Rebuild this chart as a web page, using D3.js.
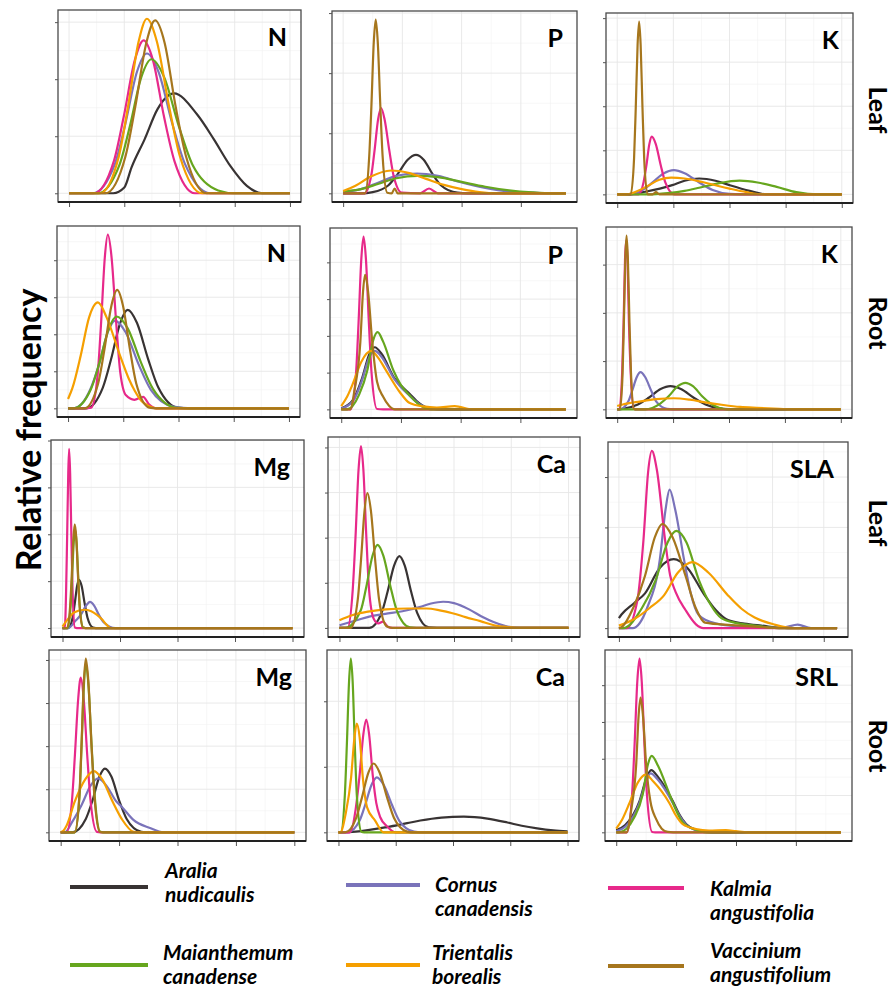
<!DOCTYPE html>
<meta charset="utf-8">
<script src="https://d3js.org/d3.v7.min.js"></script>
<style>
  body { margin: 0; background: #fff; }
  svg { font-family: Lato, "Open Sans", sans-serif; }
  .grid-major { stroke: #e6e6e6; stroke-width: 0.9; }
  .grid-minor { stroke: #f1f1f1; stroke-width: 0.6; }
  .axis path { display: none; }
  .axis line { stroke: #555; stroke-width: 1; }
  .density { fill: none; stroke-width: 2.2; stroke-linejoin: round; }
  .panel-label { font-size: 25px; font-weight: bold; text-anchor: end; }
  .side-label { font-size: 25px; font-weight: bold; text-anchor: middle; }
  .legend text { font-size: 21px; font-weight: bold; font-style: italic; }
</style>
<body>
<script>

// species, in drawing order
var species = ["Aralia nudicaulis", "Cornus canadensis", "Kalmia angustifolia",
               "Maianthemum canadense", "Trientalis borealis", "Vaccinium angustifolium"];
var colors = ["#383333", "#7a73ba", "#e7298a", "#66a61e", "#f59f00", "#a6761d"];

var traits = ["N", "P", "K", "N", "P", "K", "Mg", "Ca", "SLA", "Mg", "Ca", "SRL"];
var tissues = ["Leaf", "Root", "Leaf", "Root"];
var xMaxes = [4, 3.76, 4, 4, 3.76, 4, 4, 4, 4.26, 4, 4, 3.75];

// density curves, [x, density] per species
var nLeaf = [
  [[0,0],[0.8,0],[1.0,0.1],[1.13,0.45],[1.37,0.95],[1.6,1.47],[1.9,1.75],[2.32,1.38],[2.62,0.95],[2.92,0.48],[3.22,0.13],[3.5,0],[4,0]],
  [[0,0],[0.43,0],[0.83,0.51],[1.02,1.22],[1.23,2.13],[1.41,2.45],[1.62,2.13],[1.87,1.22],[2.1,0.51],[2.56,0],[4,0]],
  [[0,0],[0.45,0],[0.81,0.56],[0.99,1.34],[1.19,2.33],[1.35,2.68],[1.52,2.33],[1.72,1.34],[1.91,0.56],[2.28,0],[4,0]],
  [[0,0],[0.52,0],[0.91,0.49],[1.1,1.17],[1.31,2.04],[1.49,2.35],[1.72,2.04],[1.99,1.17],[2.24,0.49],[2.7,0.05],[3.0,0],[4,0]],
  [[0,0],[0.56,0],[0.9,0.64],[1.07,1.53],[1.26,2.66],[1.41,3.06],[1.59,2.66],[1.81,1.53],[2.01,0.64],[2.41,0],[4,0]],
  [[0,0],[0.66,0],[1.02,0.64],[1.2,1.52],[1.4,2.64],[1.56,3.03],[1.73,2.64],[1.93,1.52],[2.12,0.64],[2.49,0],[4,0]]
];
var pLeaf = [
  [[0,0],[0.3,0],[0.5,0.02],[0.765,0.135],[0.92,0.32],[1.09,0.56],[1.23,0.64],[1.36,0.56],[1.51,0.32],[1.65,0.135],[1.93,0.01],[2.1,0],[3.76,0]],
  [[0,0.02],[0.3,0.07],[0.6,0.18],[0.9,0.29],[1.25,0.33],[1.6,0.29],[2.0,0.18],[2.4,0.09],[2.8,0.03],[3.2,0.01],[3.5,0],[3.76,0]],
  [[0,0],[0.36,0],[0.475,0.3],[0.53,0.71],[0.59,1.23],[0.64,1.42],[0.7,1.23],[0.78,0.71],[0.85,0.3],[0.99,0.01],[1.3,0],[1.45,0.08],[1.6,0],[3.76,0]],
  [[0,0.03],[0.3,0.07],[0.6,0.16],[0.9,0.25],[1.25,0.29],[1.6,0.27],[2.0,0.19],[2.4,0.11],[2.8,0.05],[3.2,0.015],[3.55,0],[3.76,0]],
  [[0,0.04],[0.2,0.12],[0.45,0.27],[0.81,0.38],[1.1,0.34],[1.4,0.24],[1.7,0.14],[2.0,0.07],[2.3,0.02],[2.6,0],[3.76,0]],
  [[0,0],[0.37,0],[0.44,0.61],[0.477,1.45],[0.517,2.51],[0.55,2.89],[0.585,2.51],[0.628,1.45],[0.667,0.61],[0.745,0.01],[0.82,0],[0.87,0.08],[0.92,0],[3.76,0]]
];
var kLeaf = [
  [[0,0],[0.2,0],[0.5,0.06],[0.98,0.21],[1.2,0.31],[1.46,0.36],[1.75,0.31],[2.0,0.21],[2.36,0.08],[2.65,0],[4,0]],
  [[0,0],[0.2,0],[0.45,0.1],[0.63,0.27],[0.82,0.47],[1.01,0.55],[1.2,0.48],[1.46,0.27],[1.7,0.1],[2.0,0.01],[2.2,0],[4,0]],
  [[0,0],[0.38,0],[0.47,0.28],[0.52,0.66],[0.572,1.14],[0.615,1.31],[0.687,1.14],[0.775,0.66],[0.855,0.28],[1.02,0],[4,0]],
  [[0,0],[0.55,0],[0.9,0.03],[1.2,0.08],[1.46,0.15],[1.8,0.25],[2.18,0.31],[2.5,0.27],[2.84,0.17],[3.19,0.05],[3.6,0],[4,0]],
  [[0,0],[0.15,0],[0.35,0.07],[0.54,0.19],[0.75,0.33],[0.96,0.38],[1.2,0.36],[1.52,0.28],[1.8,0.19],[2.0,0.13],[2.3,0.05],[2.6,0],[4,0]],
  [[0,0],[0.24,0],[0.3,0.82],[0.33,1.96],[0.363,3.4],[0.39,3.92],[0.417,3.4],[0.45,1.96],[0.48,0.82],[0.54,0],[0.63,0],[0.69,0.05],[0.75,0],[4,0]]
];
var nRoot = [
  [[0,0],[0.33,0],[0.63,0.56],[0.78,1.33],[0.945,2.31],[1.08,2.66],[1.247,2.31],[1.45,1.33],[1.635,0.56],[2.0,0.01],[2.2,0],[4,0]],
  [[0,0],[0.1,0],[0.4,0.5],[0.56,1.18],[0.72,2.06],[0.85,2.37],[1.04,2.06],[1.28,1.18],[1.5,0.5],[1.9,0.05],[2.25,0],[4,0]],
  [[0,0],[0.3,0],[0.42,0.02],[0.54,0.98],[0.6,2.35],[0.666,4.08],[0.72,4.69],[0.788,4.08],[0.87,2.35],[0.945,0.98],[1.05,0.35],[1.2,0.23],[1.36,0.31],[1.47,0.1],[1.6,0],[4,0]],
  [[0,0],[0.1,0],[0.415,0.52],[0.57,1.24],[0.74,2.16],[0.88,2.48],[1.08,2.16],[1.32,1.24],[1.54,0.52],[1.98,0.01],[2.2,0],[4,0]],
  [[0,0.25],[0.08,0.55],[0.23,1.43],[0.38,2.45],[0.54,2.86],[0.7,2.45],[0.94,1.43],[1.1,0.8],[1.21,0.47],[1.33,0.2],[1.45,0.07],[1.6,0],[4,0]],
  [[0,0],[0.3,0],[0.545,0.67],[0.66,1.6],[0.786,2.78],[0.89,3.2],[0.994,2.78],[1.12,1.6],[1.235,0.67],[1.47,0.02],[1.6,0],[4,0]]
];
var pRoot = [
  [[0,0.03],[0.195,0.25],[0.35,0.85],[0.47,1.5],[0.56,1.69],[0.68,1.5],[0.89,0.85],[1.0,0.65],[1.14,0.43],[1.31,0.16],[1.5,0.02],[1.7,0],[3.76,0]],
  [[0,0.02],[0.195,0.22],[0.35,0.8],[0.47,1.42],[0.56,1.59],[0.68,1.42],[0.89,0.82],[1.0,0.6],[1.14,0.38],[1.31,0.14],[1.5,0.02],[1.7,0],[3.76,0]],
  [[0,0],[0.16,0],[0.248,0.99],[0.29,2.35],[0.336,4.08],[0.374,4.7],[0.414,4.08],[0.463,2.35],[0.508,0.99],[0.6,0.01],[0.7,0],[3.76,0]],
  [[0,0],[0.1,0],[0.3,0.4],[0.435,1.05],[0.53,1.85],[0.61,2.1],[0.7,1.85],[0.876,1.05],[1.0,0.66],[1.14,0.39],[1.31,0.12],[1.5,0],[3.76,0]],
  [[0,0.09],[0.1,0.35],[0.195,0.7],[0.335,1.29],[0.5,1.59],[0.62,1.4],[0.75,1.06],[0.976,0.48],[1.14,0.18],[1.37,0.08],[1.6,0.05],[1.9,0.09],[2.2,0],[3.76,0]],
  [[0,0],[0.15,0],[0.22,0.5],[0.32,1.83],[0.365,3.2],[0.4,3.66],[0.45,3.2],[0.52,1.83],[0.6,0.75],[0.7,0.35],[0.8,0.1],[0.9,0],[3.76,0]]
];
var kRoot = [
  [[0,0],[0.1,0.01],[0.37,0.1],[0.565,0.24],[0.777,0.42],[0.95,0.48],[1.14,0.42],[1.37,0.24],[1.58,0.1],[1.9,0.01],[2.1,0],[4,0]],
  [[0,0],[0.05,0],[0.197,0.16],[0.27,0.39],[0.351,0.67],[0.417,0.77],[0.5,0.67],[0.607,0.39],[0.7,0.16],[0.89,0.01],[1.0,0],[4,0]],
  [[0,0],[0.04,0],[0.09,0.8],[0.115,1.8],[0.14,3.1],[0.16,3.5],[0.185,3.1],[0.21,1.8],[0.24,0.8],[0.3,0.01],[0.35,0],[4,0]],
  [[0,0],[0.5,0],[0.77,0.12],[0.92,0.27],[1.085,0.48],[1.22,0.55],[1.355,0.48],[1.52,0.27],[1.67,0.12],[1.97,0],[4,0]],
  [[0,0.07],[0.1,0.1],[0.4,0.16],[0.7,0.21],[1.01,0.23],[1.3,0.2],[1.6,0.14],[1.9,0.09],[2.2,0.05],[2.5,0.03],[2.9,0.01],[3.2,0],[4,0]],
  [[0,0],[0.05,0],[0.097,0.76],[0.12,1.8],[0.146,3.13],[0.167,3.6],[0.191,3.13],[0.22,1.8],[0.247,0.76],[0.3,0.01],[0.35,0],[4,0]]
];
var mgLeaf = [
  [[0,0],[0.1,0],[0.176,0.22],[0.213,0.52],[0.254,0.9],[0.288,1.03],[0.332,0.9],[0.386,0.52],[0.435,0.22],[0.53,0.01],[0.58,0],[4,0]],
  [[0,0],[0.1,0],[0.23,0.16],[0.317,0.28],[0.41,0.48],[0.478,0.56],[0.55,0.48],[0.633,0.28],[0.72,0.12],[0.92,0],[4,0]],
  [[0,0],[0.04,0],[0.063,0.8],[0.08,1.91],[0.1,3.3],[0.115,3.82],[0.133,3.3],[0.155,1.91],[0.175,0.8],[0.215,0.01],[0.25,0],[4,0]],
  [[0,0],[0.09,0],[0.14,0.45],[0.165,1.05],[0.195,1.82],[0.22,2.1],[0.245,1.82],[0.275,1.05],[0.3,0.45],[0.36,0.01],[0.4,0],[4,0]],
  [[0,0.03],[0.1,0.2],[0.2,0.33],[0.374,0.39],[0.5,0.36],[0.6,0.28],[0.69,0.18],[0.76,0.08],[0.84,0],[4,0]],
  [[0,0],[0.08,0],[0.133,0.47],[0.16,1.1],[0.19,1.92],[0.213,2.21],[0.24,1.92],[0.27,1.1],[0.298,0.47],[0.355,0.01],[0.4,0],[4,0]]
];
var caLeaf = [
  [[0,0],[0.52,0],[0.737,0.34],[0.84,0.8],[0.954,1.38],[1.047,1.59],[1.14,1.38],[1.252,0.8],[1.355,0.34],[1.56,0.01],[1.7,0],[4,0]],
  [[0,0.06],[0.3,0.17],[0.52,0.25],[0.8,0.31],[1.1,0.37],[1.4,0.46],[1.6,0.54],[1.81,0.58],[2.0,0.55],[2.28,0.4],[2.5,0.24],[2.69,0.13],[2.9,0.04],[3.16,0],[4,0]],
  [[0,0],[0.14,0],[0.232,0.85],[0.28,2.0],[0.333,3.5],[0.376,4.03],[0.418,3.5],[0.47,2.0],[0.517,0.85],[0.6,0.2],[0.68,0.1],[0.76,0.14],[0.85,0.02],[0.92,0],[4,0]],
  [[0,0],[0.1,0],[0.372,0.39],[0.47,0.92],[0.577,1.6],[0.665,1.84],[0.766,1.6],[0.89,0.92],[1.0,0.39],[1.23,0.01],[1.34,0],[4,0]],
  [[0,0.17],[0.22,0.28],[0.5,0.36],[0.81,0.41],[1.2,0.43],[1.52,0.43],[1.75,0.39],[1.99,0.32],[2.2,0.24],[2.46,0.15],[2.7,0.06],[2.93,0.02],[3.2,0],[4,0]],
  [[0,0],[0.2,0],[0.32,0.63],[0.376,1.5],[0.438,2.6],[0.488,2.99],[0.549,2.6],[0.624,1.5],[0.692,0.63],[0.83,0.03],[0.93,0],[4,0]]
];
var slaLeaf = [
  [[0,0.2],[0.05,0.27],[0.3,0.5],[0.51,0.69],[0.8,1.2],[1.07,1.37],[1.35,1.18],[1.65,0.69],[1.9,0.35],[2.13,0.16],[2.45,0.09],[2.78,0.05],[3.3,0],[4.26,0]],
  [[0,0],[0.27,0],[0.55,0.4],[0.8,1.37],[0.91,2.35],[0.99,2.75],[1.1,2.35],[1.27,1.37],[1.4,0.7],[1.56,0.26],[1.8,0.12],[2.0,0.07],[2.5,0.03],[3.2,0.01],[3.49,0.07],[3.75,0],[4.26,0]],
  [[0,0],[0.15,0],[0.36,0.55],[0.48,1.76],[0.57,3.1],[0.643,3.52],[0.74,3.15],[0.9,1.76],[1.0,1.05],[1.106,0.72],[1.3,0.36],[1.5,0.08],[1.65,0],[4.26,0]],
  [[0,0],[0.08,0],[0.45,0.4],[0.72,0.96],[0.95,1.7],[1.12,1.93],[1.32,1.7],[1.56,0.96],[1.8,0.45],[2.0,0.2],[2.3,0.1],[2.65,0.05],[3.2,0],[4.26,0]],
  [[0,0.05],[0.3,0.18],[0.6,0.4],[0.88,0.65],[1.15,1.1],[1.43,1.31],[1.75,1.1],[2.13,0.65],[2.4,0.38],[2.65,0.21],[3.04,0.07],[3.42,0],[4.26,0]],
  [[0,0],[0.05,0.02],[0.3,0.45],[0.51,1.04],[0.7,1.8],[0.85,2.07],[1.05,1.8],[1.3,1.04],[1.5,0.4],[1.68,0.11],[2.2,0.06],[2.65,0.03],[3.2,0],[4.26,0]]
];
var mgRoot = [
  [[0,0],[0.2,0],[0.43,0.31],[0.545,0.74],[0.662,1.29],[0.757,1.48],[0.87,1.29],[1.0,0.74],[1.13,0.31],[1.38,0.01],[1.45,0],[4,0]],
  [[0,0],[0.07,0],[0.2,0.25],[0.356,0.63],[0.52,1.1],[0.643,1.25],[0.8,1.05],[0.95,0.72],[1.04,0.6],[1.245,0.29],[1.53,0.1],[1.76,0],[4,0]],
  [[0,0],[0.1,0],[0.194,0.75],[0.244,1.8],[0.3,3.1],[0.344,3.59],[0.394,3.1],[0.454,1.8],[0.51,0.75],[0.62,0.01],[0.68,0],[4,0]],
  [[0,0],[0.24,0],[0.32,0.8],[0.356,1.95],[0.397,3.4],[0.43,3.93],[0.476,3.4],[0.532,1.95],[0.585,0.8],[0.68,0.01],[0.73,0],[4,0]],
  [[0,0],[0.05,0.04],[0.1,0.15],[0.24,0.71],[0.42,1.23],[0.568,1.42],[0.712,1.23],[0.89,0.71],[1.05,0.3],[1.25,0.01],[1.35,0],[4,0]],
  [[0,0],[0.24,0],[0.32,0.85],[0.356,2.0],[0.397,3.5],[0.43,4.03],[0.474,3.5],[0.528,2.0],[0.577,0.85],[0.67,0.01],[0.72,0],[4,0]]
];
var caRoot = [
  [[0,0],[0.3,0.01],[0.85,0.08],[1.2,0.14],[1.43,0.18],[1.8,0.225],[2.19,0.24],[2.6,0.21],[2.95,0.15],[3.2,0.1],[3.47,0.06],[3.75,0.03],[4,0.015]],
  [[0,0],[0.16,0],[0.37,0.18],[0.467,0.42],[0.58,0.73],[0.67,0.84],[0.787,0.73],[0.934,0.42],[1.06,0.18],[1.32,0.01],[1.45,0],[4,0]],
  [[0,0],[0.2,0],[0.3,0.35],[0.368,0.86],[0.435,1.5],[0.485,1.72],[0.535,1.5],[0.6,0.86],[0.66,0.45],[0.73,0.23],[0.85,0.09],[1.0,0],[4,0]],
  [[0,0],[0.04,0],[0.111,0.56],[0.146,1.32],[0.185,2.3],[0.216,2.65],[0.248,2.3],[0.286,1.32],[0.321,0.56],[0.4,0.01],[0.45,0],[4,0]],
  [[0,0],[0.03,0],[0.13,0.3],[0.22,0.83],[0.28,1.45],[0.32,1.66],[0.37,1.45],[0.426,0.83],[0.5,0.38],[0.64,0.18],[0.79,0],[4,0]],
  [[0,0],[0.12,0],[0.31,0.22],[0.41,0.53],[0.523,0.91],[0.613,1.05],[0.72,0.91],[0.85,0.53],[0.97,0.22],[1.2,0.01],[1.28,0],[4,0]]
];
var srlRoot = [
  [[0,0.06],[0.15,0.2],[0.389,0.85],[0.5,1.45],[0.583,1.69],[0.7,1.5],[0.944,0.85],[1.05,0.5],[1.17,0.22],[1.33,0.07],[1.5,0.01],[1.6,0],[3.75,0]],
  [[0,0.03],[0.15,0.15],[0.389,0.8],[0.5,1.38],[0.572,1.6],[0.7,1.42],[0.944,0.8],[1.05,0.47],[1.17,0.2],[1.33,0.06],[1.5,0.01],[1.6,0],[3.75,0]],
  [[0,0],[0.18,0],[0.264,1.0],[0.306,2.36],[0.352,4.1],[0.389,4.72],[0.426,4.1],[0.472,2.36],[0.514,1.0],[0.6,0.01],[0.65,0],[3.75,0]],
  [[0,0],[0.05,0],[0.3,0.4],[0.444,1.04],[0.53,1.85],[0.594,2.08],[0.7,1.8],[0.889,1.04],[1.0,0.6],[1.11,0.27],[1.33,0.07],[1.5,0],[3.75,0]],
  [[0,0.1],[0.1,0.35],[0.22,0.79],[0.36,1.35],[0.489,1.57],[0.62,1.38],[0.889,0.79],[1.0,0.45],[1.11,0.22],[1.33,0.09],[1.55,0.05],[1.83,0.06],[2.0,0.03],[2.2,0],[3.75,0]],
  [[0,0],[0.17,0],[0.25,0.6],[0.333,1.83],[0.375,3.2],[0.406,3.66],[0.445,3.2],[0.5,1.83],[0.57,0.85],[0.667,0.36],[0.76,0.1],[0.86,0.01],[0.95,0],[3.75,0]]
];

var panels = [nLeaf, pLeaf, kLeaf, nRoot, pRoot, kRoot, mgLeaf, caLeaf, slaLeaf, mgRoot, caRoot, srlRoot];

// layout: panel boxes [left, top, right, bottom] (the figure is a pasted composite)
var boxes = [
  [58, 10, 301, 202], [332, 11, 577, 202], [606, 13, 853, 203],
  [57, 226, 300, 417], [330, 228, 577, 418], [606, 227, 852, 418],
  [51, 440, 304, 637], [328, 437, 580, 637], [608, 442, 848, 637],
  [49, 650, 306, 841], [327, 650, 579, 841], [605, 650, 852, 841]
];
var sideY = [110, 323, 523, 746];
// legend: line x1, x2, y, text x, first baseline
var legendPos = [
  [70, 148, 887, 165, 878], [346, 420, 885, 435, 892], [608, 684, 888, 710, 896],
  [70, 148, 965, 163, 960], [346, 420, 965, 432, 960], [608, 684, 966, 710, 958]
];

var width = 895, height = 988;

var svg = d3.select("body").append("svg")
    .attr("width", width)
    .attr("height", height);

panels.forEach(function (curves, i) {
  var b = boxes[i];
  var xMax = xMaxes[i];
  var yMax = d3.max(curves, function (c) { return d3.max(c, function (d) { return d[1]; }); });

  var x = d3.scaleLinear()
      .domain([-0.05 * xMax, 1.05 * xMax])
      .range([b[0], b[2]]);
  var y = d3.scaleLinear()
      .domain([-0.05 * yMax, 1.05 * yMax])
      .range([b[3], b[1]]);

  var xTicks = d3.range(0, Math.floor(x.domain()[1]) + 1);
  var yTicks = d3.range(0, Math.floor(y.domain()[1]) + 1);
  var xMinor = xTicks.map(function (t) { return t + 0.5; }).filter(function (t) { return t < x.domain()[1]; });
  var yMinor = yTicks.map(function (t) { return t + 0.5; }).filter(function (t) { return t < y.domain()[1]; });

  var g = svg.append("g");

  g.append("rect")
      .attr("x", b[0]).attr("y", b[1])
      .attr("width", b[2] - b[0]).attr("height", b[3] - b[1])
      .attr("fill", "#fff");

  g.selectAll(".vminor").data(xMinor).enter().append("line")
      .attr("class", "grid-minor")
      .attr("x1", x).attr("x2", x).attr("y1", b[1]).attr("y2", b[3]);
  g.selectAll(".hminor").data(yMinor).enter().append("line")
      .attr("class", "grid-minor")
      .attr("y1", y).attr("y2", y).attr("x1", b[0]).attr("x2", b[2]);
  g.selectAll(".vmajor").data(xTicks).enter().append("line")
      .attr("class", "grid-major")
      .attr("x1", x).attr("x2", x).attr("y1", b[1]).attr("y2", b[3]);
  g.selectAll(".hmajor").data(yTicks).enter().append("line")
      .attr("class", "grid-major")
      .attr("y1", y).attr("y2", y).attr("x1", b[0]).attr("x2", b[2]);

  var line = d3.line()
      .x(function (d) { return x(d[0]); })
      .y(function (d) { return y(d[1]); })
      .curve(d3.curveMonotoneX);

  g.selectAll(".density").data(curves).enter().append("path")
      .attr("class", "density")
      .attr("stroke", function (d, k) { return colors[k]; })
      .attr("d", line);

  g.append("rect")
      .attr("x", b[0]).attr("y", b[1])
      .attr("width", b[2] - b[0]).attr("height", b[3] - b[1])
      .attr("fill", "none")
      .attr("stroke", "#4a4a4a")
      .attr("stroke-width", 1.3);

  g.append("line")
      .attr("x1", b[0]).attr("x2", b[2])
      .attr("y1", b[3]).attr("y2", b[3])
      .attr("stroke", "#222")
      .attr("stroke-width", 2);

  g.append("g")
      .attr("class", "axis")
      .attr("transform", "translate(0," + (b[3] + 1) + ")")
      .call(d3.axisBottom(x).tickValues(xTicks).tickFormat("").tickSizeInner(4).tickSizeOuter(0));

  g.append("g")
      .attr("class", "axis")
      .attr("transform", "translate(" + b[0] + ",0)")
      .call(d3.axisLeft(y).tickValues(yTicks).tickFormat("").tickSizeInner(3).tickSizeOuter(0));

  g.append("text")
      .attr("class", "panel-label")
      .attr("x", b[2] - 14)
      .attr("y", b[1] + 36)
      .text(traits[i]);
});

tissues.forEach(function (t, r) {
  svg.append("text")
      .attr("class", "side-label")
      .attr("transform", "translate(869," + sideY[r] + ") rotate(90)")
      .text(t);
});

svg.append("text")
    .attr("transform", "translate(41,430) rotate(-90)")
    .attr("text-anchor", "middle")
    .attr("font-size", 34)
    .attr("font-weight", "bold")
    .text("Relative frequency");

var legend = svg.append("g").attr("class", "legend");
species.forEach(function (s, k) {
  var p = legendPos[k];
  var parts = s.split(" ");
  legend.append("line")
      .attr("x1", p[0]).attr("x2", p[1])
      .attr("y1", p[2]).attr("y2", p[2])
      .attr("stroke", colors[k])
      .attr("stroke-width", 4);
  legend.append("text").attr("x", p[3]).attr("y", p[4]).text(parts[0]);
  legend.append("text").attr("x", p[3]).attr("y", p[4] + 24).text(parts[1]);
});

</script>
</body>
